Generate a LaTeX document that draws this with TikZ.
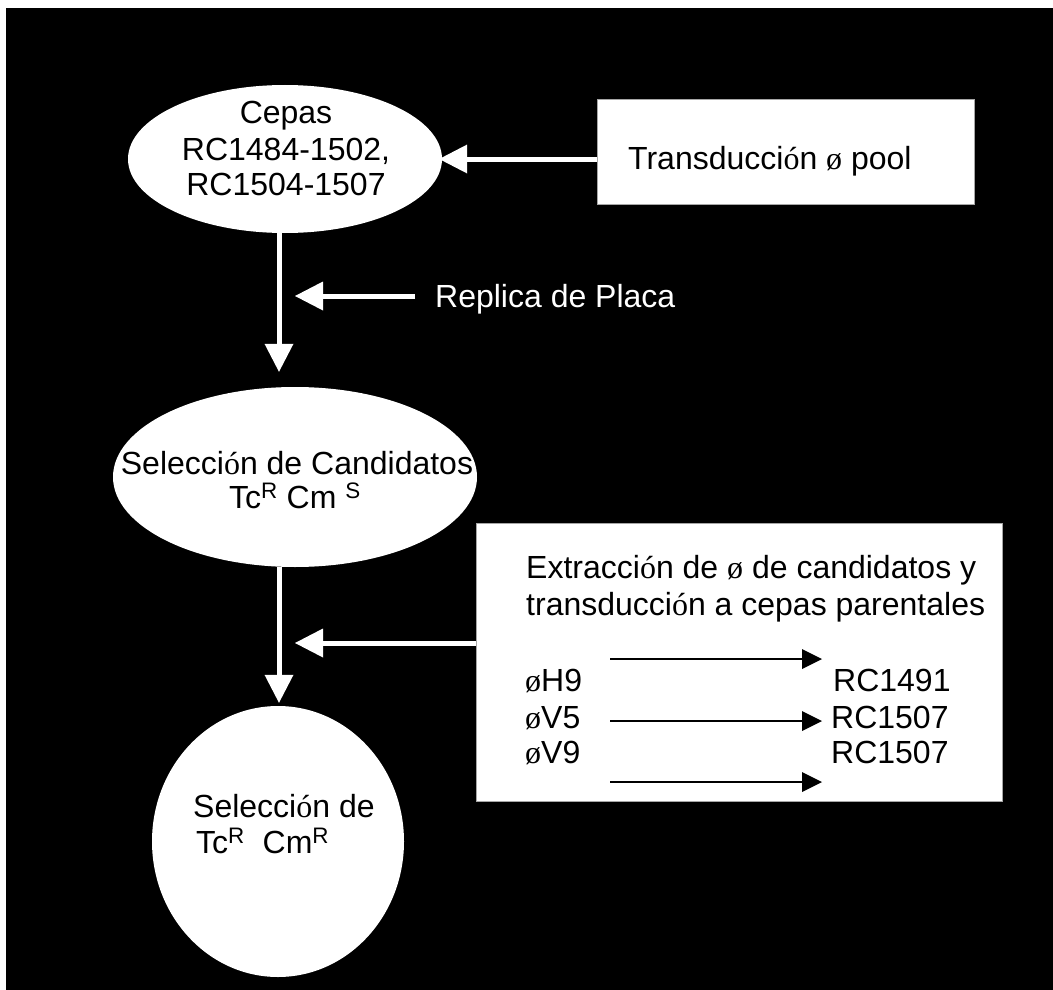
\documentclass[tikz,border=0pt]{standalone}
\usepackage{fontspec}
\setmainfont{Liberation Sans}
\newfontfamily\serifpart{Liberation Serif}
\usetikzlibrary{shapes.geometric,arrows.meta}
\newcommand{\acO}{{\serifpart ó}}
\newcommand{\phiS}{{\serifpart ø}}
\tikzset{
  lbl/.style={inner sep=0pt, font=\fontsize{32}{36}\selectfont, text=black},
  ell/.style={ellipse, fill=white, draw=none, inner sep=0pt},
  wbox/.style={rectangle, fill=white, draw=gray!70, line width=1pt, inner sep=0pt},
  whitearr/.style={draw=white, line width=5pt, -{Triangle[length=28pt,width=29pt,line width=0pt]}},
  blackarr/.style={draw=black, line width=2pt, -{Triangle[length=20pt,width=20pt,line width=0pt]}}
}
\begin{document}
\begin{tikzpicture}[x=1pt,y=-1pt]
\useasboundingbox (0,0) rectangle (1053,990);
\fill[white] (0,0) rectangle (1053,990);
\fill[black] (6,8) rectangle (1053,990);

% ellipses
\node[ell, minimum width=314pt, minimum height=148pt] (e1) at (285,159) {};
\node[ell, minimum width=364pt, minimum height=180pt] (e2) at (295,477) {};
\node[ell, minimum width=252pt, minimum height=271pt] (e3) at (278,841.5) {};

% boxes
\node[wbox, minimum width=377pt, minimum height=104pt] (b1) at (785.5,152) {};
\node[wbox, minimum width=526pt, minimum height=278pt] (b2) at (739,662) {};

% texts ellipse 1
\node[lbl, anchor=base] (t1a) at (286,123) {Cepas};
\node[lbl, anchor=base] (t1b) at (286,160) {RC1484-1502,};
\node[lbl, anchor=base] (t1c) at (286,195) {RC1504-1507};

% texts ellipse 2
\node[lbl, anchor=base] (t2a) at (297,474) {Selecci\acO n de Candidatos};
\node[lbl, anchor=base] (t2b) at (295,508) {Tc\textsuperscript{R} Cm \textsuperscript{S}};

% texts ellipse 3
\node[lbl, anchor=base west] (t3a) at (193,817) {Selecci\acO n de};
\node[lbl, anchor=base west] (t3b) at (196,853) {Tc\textsuperscript{R}\ \ Cm\textsuperscript{R}};

% box 1 text
\node[lbl, anchor=base west] (tb1) at (628,169) {Transducci\acO n \phiS\ pool};

% replica text (white on black)
\node[lbl, anchor=base west, text=white] (rep) at (435,307) {Replica de Placa};

% box 2 texts
\node[lbl, anchor=base west] (tb2a) at (526,578) {Extracci\acO n de \phiS\ de candidatos y};
\node[lbl, anchor=base west] (tb2b) at (526,615) {transducci\acO n a cepas parentales};
\node[lbl, anchor=base west] (p1) at (525,691) {\phiS H9};
\node[lbl, anchor=base west] (p2) at (525,728) {\phiS V5};
\node[lbl, anchor=base west] (p3) at (525,763) {\phiS V9};
\node[lbl, anchor=base west] (r1) at (833,691) {RC1491};
\node[lbl, anchor=base west] (r2) at (831,728) {RC1507};
\node[lbl, anchor=base west] (r3) at (831,763) {RC1507};

% coordinates
\coordinate (ax) at (279,0);
\coordinate (repstart) at (415,296);
\coordinate (arr3) at (0,643);
\coordinate (k1s) at (610,659);
\coordinate (k1e) at (822,659);
\coordinate (k2s) at (610,721);
\coordinate (k2e) at (822,721);
\coordinate (k3s) at (610,782);
\coordinate (k3e) at (822,782);

% white arrows
\draw[whitearr, shorten >=-3pt] (b1.west |- e1.center) -- (e1.east);
\draw[whitearr, shorten >=15pt] (e1.south -| ax) -- (e2.north -| ax);
\draw[whitearr, shorten >=16pt] (repstart) -- (ax |- repstart);
\draw[whitearr, shorten >=3pt] (e2.south -| ax) -- (e3.north -| ax);
\draw[whitearr, shorten >=16pt] (b2.west |- arr3) -- (ax |- arr3);

% black arrows
\draw[blackarr] (k1s) -- (k1e);
\draw[blackarr] (k2s) -- (k2e);
\draw[blackarr] (k3s) -- (k3e);
\end{tikzpicture}
\end{document}
